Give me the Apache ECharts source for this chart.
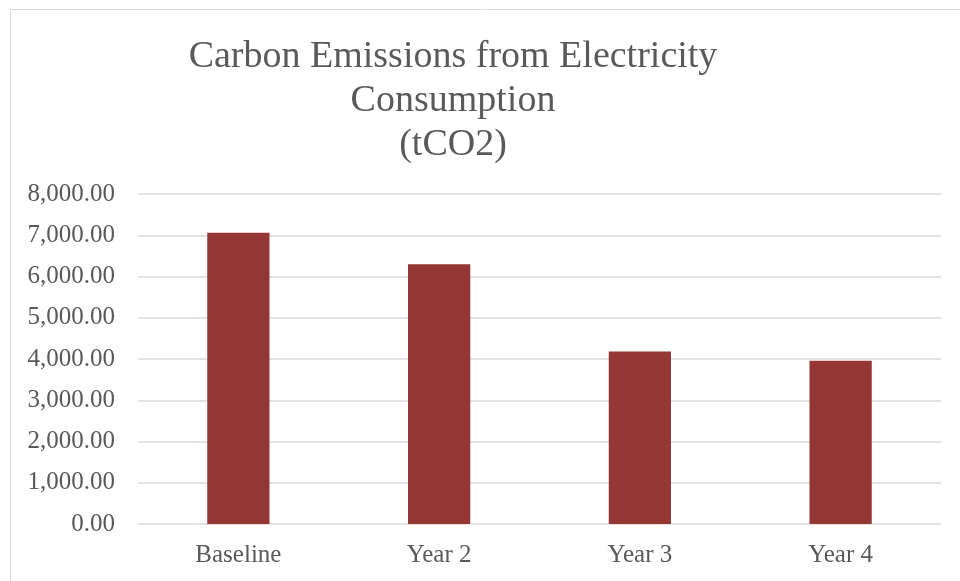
<!DOCTYPE html>
<html><head><meta charset="utf-8">
<script src="https://cdn.jsdelivr.net/npm/echarts@6/dist/echarts.min.js"></script>
<style>html,body{margin:0;padding:0;background:#fff}#c{width:960px;height:581px}</style>
</head><body><div id="c"></div>
<script>
const categories = ['Baseline', 'Year 2', 'Year 3', 'Year 4'];
const emissions = [7060, 6300, 4180, 3960];
const titleLines = ['Carbon Emissions from Electricity', 'Consumption', '(tCO2)'];

const font = '"Liberation Serif", "DejaVu Serif", serif';
const chart = echarts.init(document.getElementById('c'), null, {renderer: 'canvas'});
chart.setOption({
  animation: false,
  backgroundColor: '#fff',
  graphic: [
    {type: 'rect', shape: {x: 10.5, y: 9.5, width: 980, height: 600}, style: {fill: 'none', stroke: '#d9d9d9', lineWidth: 1}, silent: true},
    ...titleLines.map((t, i) => ({
      type: 'text', x: 453, y: 38 + i * 44,
      style: {text: t, font: '38px ' + font, fill: '#595959', textAlign: 'center', textVerticalAlign: 'top'}
    }))
  ],
  grid: {left: 138, right: 19, top: 194, bottom: 57, containLabel: false},
  xAxis: {
    type: 'category', data: categories,
    axisLine: {show: false}, axisTick: {show: false},
    axisLabel: {color: '#595959', fontFamily: font, fontSize: 25, margin: 19}
  },
  yAxis: {
    type: 'value', min: 0, max: 8000, interval: 1000,
    axisLine: {show: false}, axisTick: {show: false},
    splitLine: {lineStyle: {color: '#d9d9d9', width: 1.5}},
    axisLabel: {
      color: '#595959', fontFamily: font, fontSize: 25, margin: 23,
      formatter: v => v.toLocaleString('en-US', {minimumFractionDigits: 2, maximumFractionDigits: 2})
    }
  },
  series: [{
    type: 'bar', data: emissions, barWidth: '31%',
    itemStyle: {color: '#943634'}
  }]
});
</script></body></html>
